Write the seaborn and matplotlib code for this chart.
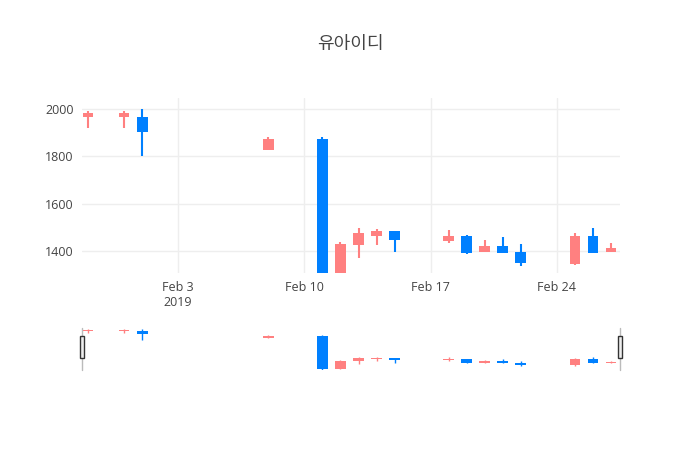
import matplotlib
matplotlib.use("Agg")
import matplotlib.pyplot as plt
import matplotlib.dates as mdates
import numpy as np
import pandas as pd
import seaborn as sns

sns.set_theme(style="white")
plt.rcParams['font.family'] = ['Open Sans', 'Noto Sans CJK KR', 'DejaVu Sans']

UP = "#FF8080"
DOWN = "#0080FF"

dates = pd.to_datetime(["2019-01-29", "2019-01-31", "2019-02-01", "2019-02-08", "2019-02-11",
                        "2019-02-12", "2019-02-13", "2019-02-14", "2019-02-15", "2019-02-18",
                        "2019-02-19", "2019-02-20", "2019-02-21", "2019-02-22", "2019-02-25",
                        "2019-02-26", "2019-02-27"])
opens  = [1965, 1965, 1965, 1827, 1873, 1275, 1425, 1463, 1484, 1442, 1463, 1395, 1421, 1395, 1345, 1463, 1395]
highs  = [1990, 1990, 2000, 1882, 1880, 1437, 1497, 1493, 1486, 1488, 1468, 1446, 1459, 1429, 1476, 1497, 1433]
lows   = [1920, 1920, 1800, 1827, 1270, 1275, 1370, 1425, 1395, 1433, 1388, 1395, 1391, 1335, 1340, 1390, 1395]
closes = [1980, 1980, 1900, 1873, 1275, 1430, 1476, 1484, 1446, 1463, 1393, 1421, 1391, 1349, 1463, 1393, 1412]

df = pd.DataFrame({"date": dates, "open": opens, "high": highs, "low": lows, "close": closes})
df["x"] = mdates.date2num(df["date"])
df["color"] = np.where(df["close"] >= df["open"], UP, DOWN)

fig = plt.figure(figsize=(7, 4.5), dpi=100)
ax = fig.add_axes([82/700, 1-273/450, 538/700, 175/450])
ax_rs = fig.add_axes([82/700, 1-370/450, 538/700, 42/450])

def draw(a, lw):
    a.vlines(df["x"], df["low"], df["high"], colors=df["color"], linewidth=lw, zorder=2)
    a.bar(df["x"], (df["close"] - df["open"]).abs().clip(lower=4),
          bottom=np.minimum(df["open"], df["close"]), width=0.6,
          color=df["color"], linewidth=0, zorder=3)

draw(ax, 1.5)
draw(ax_rs, 1.0)

xmin = mdates.date2num(pd.Timestamp("2019-01-28 16:00"))
xmax = mdates.date2num(pd.Timestamp("2019-02-27 12:00"))
for a in (ax, ax_rs):
    a.set_xlim(xmin, xmax)
    for s in a.spines.values():
        s.set_visible(False)

ax.set_ylim(1307, 2045)
ax.set_yticks([1400, 1600, 1800, 2000])
ax.set_xticks(mdates.date2num(pd.to_datetime(["2019-02-03", "2019-02-10", "2019-02-17", "2019-02-24"])))
ax.set_xticklabels(["Feb 3\n2019", "Feb 10", "Feb 17", "Feb 24"])
ax.grid(True, color="#eeeeee", linewidth=1)
ax.set_axisbelow(True)
ax.tick_params(axis="both", labelsize=9, colors="#444444", length=0, pad=6)

ax_rs.set_ylim(1265, 2010)
ax_rs.set_xticks([])
ax_rs.set_yticks([])
for xx in (xmin, xmax):
    ax_rs.plot([xx, xx], [1265, 2010], color="#bbbbbb", linewidth=1, clip_on=False)
    ax_rs.add_patch(plt.Rectangle((xx - 0.12, 1480), 0.24, 380, facecolor="#eeeeee",
                                  edgecolor="#333333", linewidth=1, clip_on=False, zorder=5))

fig.text(0.5, 1 - 44/450, "유아이디", ha="center", va="center", fontsize=13,
         color="#444444", family=['Noto Sans CJK KR', 'DejaVu Sans'])

fig.savefig("out.png", dpi=100, facecolor="white")
